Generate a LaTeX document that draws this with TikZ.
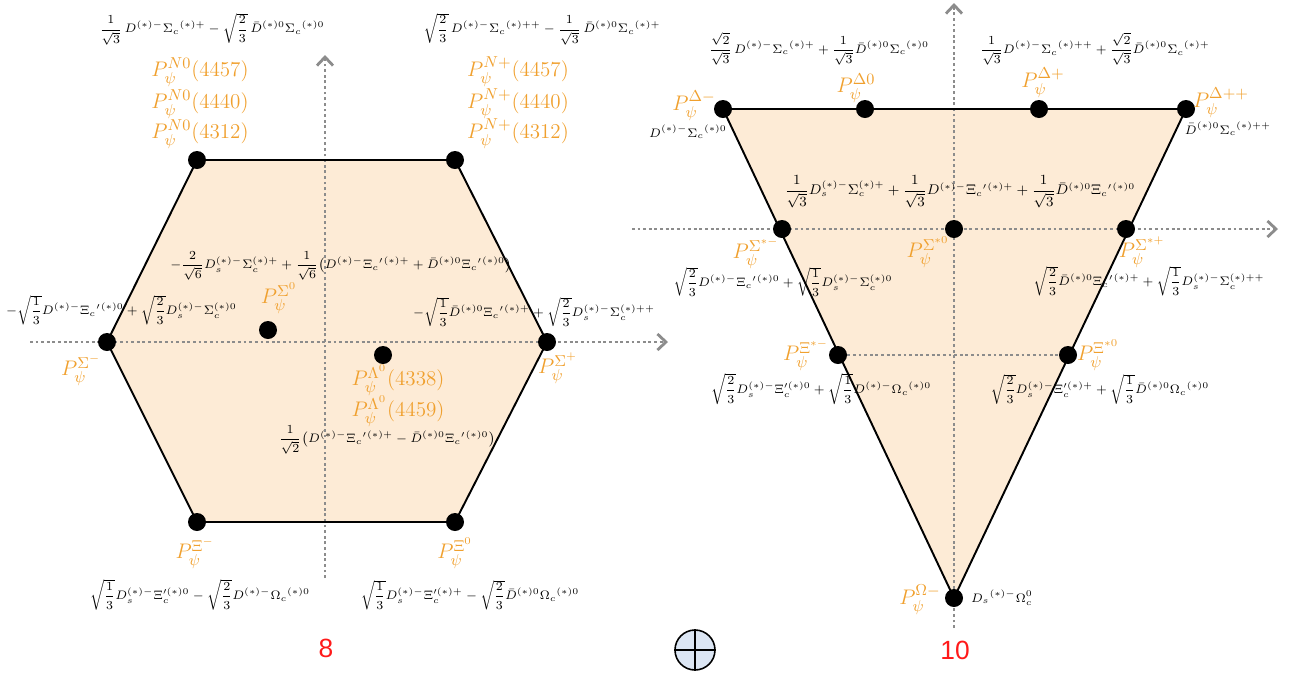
\documentclass[tikz,border=0pt]{standalone}
\usepackage{amsmath}
\usepackage{fontspec}
\usetikzlibrary{arrows.meta}
\newfontfamily\numfont{Liberation Sans}
\definecolor{figaxis}{HTML}{8C8C8C}
\definecolor{figorange}{HTML}{F0A02E}
\definecolor{figfill}{HTML}{FDEBD6}
\definecolor{figred}{HTML}{FF1A1A}
\definecolor{figblue}{HTML}{DCE6F4}

\newcommand{\DM}{D^{(*)-}}
\newcommand{\DB}{\bar{D}^{(*)0}}
\newcommand{\DS}{D_s^{(*)-}}

\begin{document}
\begin{tikzpicture}[
  x=0.02cm,y=-0.02cm,
  line join=round,
  dot/.style={circle,fill=black,minimum size=0.36cm,inner sep=0pt},
  axis/.style={draw=figaxis,line width=1.6pt,dash pattern=on 1.6pt off 1.6pt,
    -{Straight Barb[length=1.7mm,width=3.2mm]}},
  guide/.style={draw=figaxis,line width=1.6pt,dash pattern=on 1.6pt off 1.6pt},
  edge/.style={draw=black,line width=1.1pt},
  plabel/.style={text=figorange,font=\fontsize{13}{15}\selectfont,inner sep=1pt},
  mix/.style={text=black,font=\fontsize{#1}{#1}\selectfont,inner sep=1pt},
  mix/.default=7.1,
  numlabel/.style={text=figred,font=\numfont\fontsize{15}{17}\selectfont,inner sep=1pt}
]
\useasboundingbox (0,0) rectangle (1299,674);

% Octet: hexagon corners and axes
\coordinate (hTL) at (197,160);
\coordinate (hTR) at (455,160);
\coordinate (hR) at (547,342);
\coordinate (hBR) at (455,522);
\coordinate (hBL) at (197,522);
\coordinate (hL) at (107,342);
\coordinate (hxS) at (30,342);
\coordinate (hxE) at (668,342);
\coordinate (hyS) at (325,578);
\coordinate (hyE) at (325,55);

\fill[figfill] (hTL) -- (hTR) -- (hR) -- (hBR) -- (hBL) -- (hL) -- cycle;
\draw[axis] (hxS) -- (hxE);
\draw[axis] (hyS) -- (hyE);
\draw[edge] (hTL) -- (hTR) -- (hR) -- (hBR) -- (hBL) -- (hL) -- cycle;

\node[dot] (pN0) at (hTL) {};
\node[dot] (pNp) at (hTR) {};
\node[dot] (pSp) at (hR) {};
\node[dot] (pXz) at (hBR) {};
\node[dot] (pXm) at (hBL) {};
\node[dot] (pSm) at (hL) {};
\node[dot] (pSz) at (268,330) {};
\node[dot] (pLz) at (383,355) {};

% Decuplet: triangle corners and axes
\coordinate (tA) at (723,109);
\coordinate (tD) at (1186,109);
\coordinate (tJ) at (954,598);
\coordinate (txS) at (632,229);
\coordinate (txE) at (1278,229);
\coordinate (tyS) at (954,628);
\coordinate (tyE) at (954,3);

\fill[figfill] (tA) -- (tD) -- (tJ) -- cycle;
\draw[axis] (txS) -- (txE);
\draw[axis] (tyS) -- (tyE);
\draw[edge] (tA) -- (tD) -- (tJ) -- cycle;

\node[dot] (qDm) at (tA) {};
\node[dot] (qDz) at (865,109) {};
\node[dot] (qDp) at (1039,109) {};
\node[dot] (qDpp) at (tD) {};
\node[dot] (qSm) at (782,229) {};
\node[dot] (qSz) at (954,229) {};
\node[dot] (qSp) at (1126,229) {};
\node[dot] (qXm) at (838,355) {};
\node[dot] (qXz) at (1068,355) {};
\node[dot] (qOm) at (tJ) {};
\draw[guide] (qXm) -- (qXz);

% Octet labels
\node[mix=7.0] (fHexTL) at (212,29)
  {$\dfrac{1}{\sqrt{3}}\,\DM\Sigma_c{}^{(*)+}-\sqrt{\dfrac{2}{3}}\,\DB\Sigma_c{}^{(*)0}$};
\node[mix=7.0] (fHexTR) at (542,29)
  {$\sqrt{\dfrac{2}{3}}\,\DM\Sigma_c{}^{(*)++}-\dfrac{1}{\sqrt{3}}\,\DB\Sigma_c{}^{(*)+}$};
\node[plabel] (lN0a) at (200,72) {$P_\psi^{N0}(4457)$};
\node[plabel] (lN0b) at (200,104) {$P_\psi^{N0}(4440)$};
\node[plabel] (lN0c) at (200,134) {$P_\psi^{N0}(4312)$};
\node[plabel] (lNpa) at (518,72) {$P_\psi^{N+}(4457)$};
\node[plabel] (lNpb) at (518,104) {$P_\psi^{N+}(4440)$};
\node[plabel] (lNpc) at (518,134) {$P_\psi^{N+}(4312)$};
\node[mix=7.1] (fHexMid) at (341,266)
  {$-\dfrac{2}{\sqrt{6}}\DS\Sigma_c^{(*)+}+\dfrac{1}{\sqrt{6}}\bigl(\DM\Xi_c{}'{}^{(*)+}+\DB\Xi_c{}'{}^{(*)0}\bigr)$};
\node[plabel] (lSz) at (279,298) {$P_\psi^{\Sigma^0}$};
\node[mix=6.9,anchor=west] (fHexL) at (4,310)
  {$-\sqrt{\dfrac{1}{3}}\DM\Xi_c{}'{}^{(*)0}+\sqrt{\dfrac{2}{3}}\DS\Sigma_c^{(*)0}$};
\node[mix=6.8] (fHexR) at (534,312)
  {$-\sqrt{\dfrac{1}{3}}\DB\Xi_c{}'{}^{(*)+}+\sqrt{\dfrac{2}{3}}\DS\Sigma_c^{(*)++}$};
\node[plabel] (lSm) at (81,370) {$P_\psi^{\Sigma^-}$};
\node[plabel] (lSp) at (558,368) {$P_\psi^{\Sigma^+}$};
\node[plabel] (lLza) at (398,380) {$P_\psi^{\Lambda^0}(4338)$};
\node[plabel] (lLzb) at (398,411) {$P_\psi^{\Lambda^0}(4459)$};
\node[mix=7.2] (fHexLam) at (387,440)
  {$\dfrac{1}{\sqrt{2}}\bigl(\DM\Xi_c{}'{}^{(*)+}-\DB\Xi_c{}'{}^{(*)0}\bigr)$};
\node[plabel] (lXm) at (195,553) {$P_\psi^{\Xi^-}$};
\node[plabel] (lXz) at (455,553) {$P_\psi^{\Xi^0}$};
\node[mix=7.2] (fHexBL) at (200,595)
  {$\sqrt{\dfrac{1}{3}}\DS\Xi_c^{\prime(*)0}-\sqrt{\dfrac{2}{3}}\DM\Omega_c{}^{(*)0}$};
\node[mix=6.9] (fHexBR) at (470,595)
  {$\sqrt{\dfrac{1}{3}}\DS\Xi_c^{\prime(*)+}-\sqrt{\dfrac{2}{3}}\DB\Omega_c{}^{(*)0}$};
\node[numlabel] (nEight) at (326,648) {8};

% Decuplet labels
\node[mix=7.3] (fTriTL) at (819,49)
  {$\dfrac{\sqrt{2}}{\sqrt{3}}\,\DM\Sigma_c{}^{(*)+}+\dfrac{1}{\sqrt{3}}\DB\Sigma_c{}^{(*)0}$};
\node[mix=7.0] (fTriTR) at (1095,49)
  {$\dfrac{1}{\sqrt{3}}\DM\Sigma_c{}^{(*)++}+\dfrac{\sqrt{2}}{\sqrt{3}}\DB\Sigma_c{}^{(*)+}$};
\node[plabel] (mDm) at (694,106) {$P_\psi^{\Delta-}$};
\node[plabel] (mDz) at (856,88) {$P_\psi^{\Delta0}$};
\node[plabel] (mDp) at (1043,83) {$P_\psi^{\Delta+}$};
\node[plabel] (mDpp) at (1221,103) {$P_\psi^{\Delta++}$};
\node[mix=7.3] (fDeltaM) at (688,132) {$\DM\Sigma_c{}^{(*)0}$};
\node[mix=6.9] (fDeltaPP) at (1228,129) {$\DB\Sigma_c{}^{(*)++}$};
\node[mix=7.8] (fTriMid) at (960,192)
  {$\dfrac{1}{\sqrt{3}}\DS\Sigma_c^{(*)+}+\dfrac{1}{\sqrt{3}}\DM\Xi_c{}'{}^{(*)+}+\dfrac{1}{\sqrt{3}}\DB\Xi_c{}'{}^{(*)0}$};
\node[plabel] (mSm) at (756,253) {$P_\psi^{\Sigma^{*-}}$};
\node[plabel] (mSz) at (928,252) {$P_\psi^{\Sigma^{*0}}$};
\node[plabel] (mSp) at (1142,252) {$P_\psi^{\Sigma^{*+}}$};
\node[mix=6.7] (fTriL) at (783,282)
  {$\sqrt{\dfrac{2}{3}}\DM\Xi_c{}'{}^{(*)0}+\sqrt{\dfrac{1}{3}}\DS\Sigma_c^{(*)0}$};
\node[mix=6.9] (fTriR) at (1149,281)
  {$\sqrt{\dfrac{2}{3}}\DB\Xi_c{}'{}^{(*)+}+\sqrt{\dfrac{1}{3}}\DS\Sigma_c^{(*)++}$};
\node[plabel] (mXm) at (806,355) {$P_\psi^{\Xi^{*-}}$};
\node[plabel] (mXz) at (1098,355) {$P_\psi^{\Xi^{*0}}$};
\node[mix=7.3] (fXiM) at (821,389)
  {$\sqrt{\dfrac{2}{3}}\DS\Xi_c^{\prime(*)0}+\sqrt{\dfrac{1}{3}}\DM\Omega_c{}^{(*)0}$};
\node[mix=7.0] (fXiZ) at (1100,389)
  {$\sqrt{\dfrac{2}{3}}\DS\Xi_c^{\prime(*)+}+\sqrt{\dfrac{1}{3}}\DB\Omega_c{}^{(*)0}$};
\node[plabel] (mOm) at (920,600) {$P_\psi^{\Omega-}$};
\node[mix=7.2] (fOmega) at (1002,598) {$D_s{}^{(*)-}\Omega_c^0$};
\node[numlabel] (nTen) at (955,650) {10};

% Direct sum sign
\node[circle,draw=black,line width=0.9pt,fill=figblue,minimum size=0.8cm,inner sep=0pt]
  (oplus) at (695,650) {};
\draw[line width=0.9pt] (oplus.north) -- (oplus.south);
\draw[line width=0.9pt] (oplus.west) -- (oplus.east);

\end{tikzpicture}
\end{document}
